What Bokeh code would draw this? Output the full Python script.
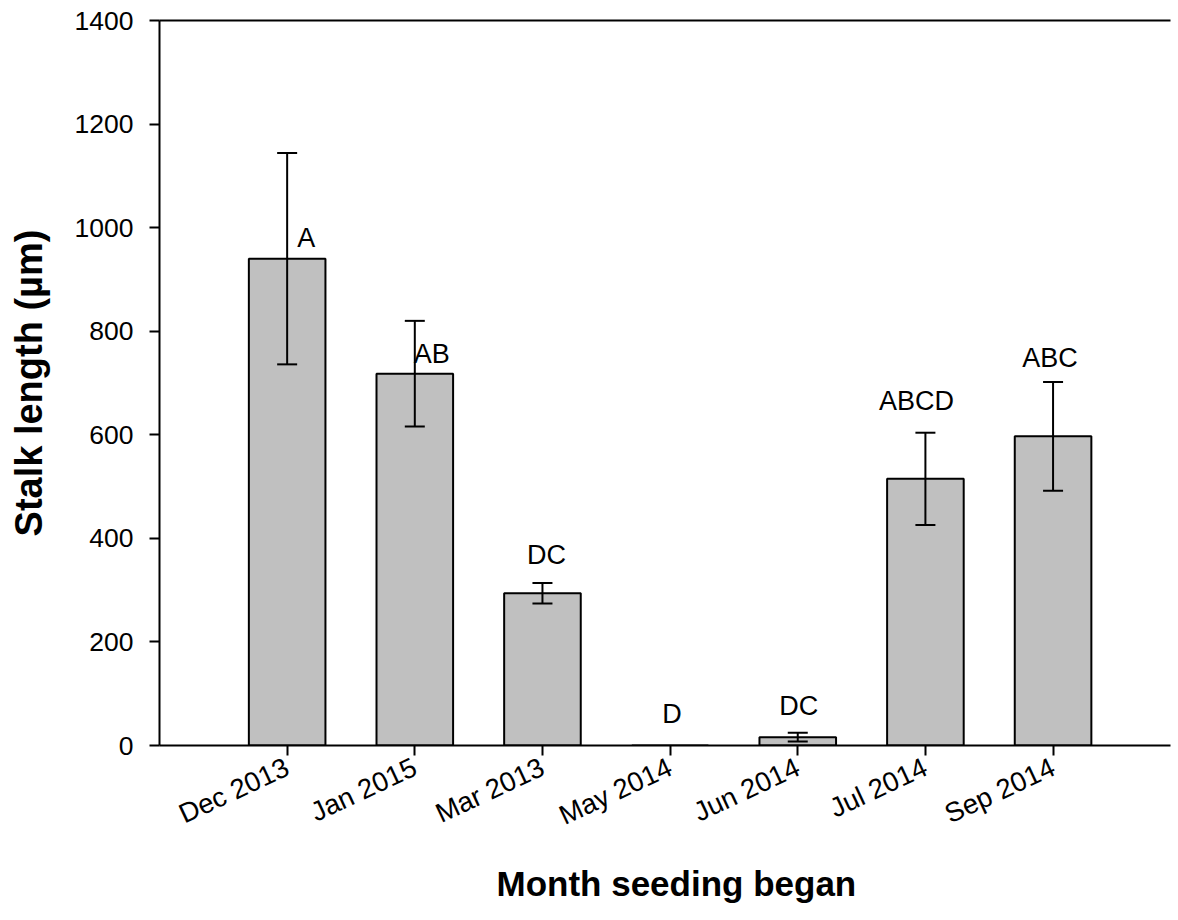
import math

from bokeh.plotting import figure
from bokeh.models import (ColumnDataSource, Range1d, FixedTicker, LinearAxis,
                          Whisker, TeeHead, LabelSet, Title)
from bokeh.core.properties import value
from bokeh.embed import file_html
from bokeh.resources import INLINE

# Month in which seeding began, mean stalk length and its standard error
months = ["Dec 2013", "Jan 2015", "Mar 2013", "May 2014", "Jun 2014", "Jul 2014", "Sep 2014"]
stalk_mean = [940, 718, 294, 0, 16, 515, 597]
stalk_err = [204, 102, 20, 0, 8.5, 89, 105]

# Tukey grouping letters
groups = ["A", "AB", "DC", "D", "DC", "ABCD", "ABC"]

y_ticks = [0, 200, 400, 600, 800, 1000, 1200, 1400]

# Placement of the grouping letters: height (µm) and sideways nudge (px)
letter_y = [962, 738, 351, 43, 58, 648, 730]
letter_dx = [19, 17, 4, 2, 1, -9, -3]

FONT = "Liberation Sans"

xs = list(range(1, len(months) + 1))

bars = ColumnDataSource(dict(x=xs, top=stalk_mean))

err_idx = [i for i, e in enumerate(stalk_err) if e > 0]
errs = ColumnDataSource(dict(
    x=[xs[i] for i in err_idx],
    upper=[stalk_mean[i] + stalk_err[i] for i in err_idx],
    lower=[stalk_mean[i] - stalk_err[i] for i in err_idx],
))

letters = ColumnDataSource(dict(x=xs, y=letter_y, text=groups, dx=letter_dx))

p = figure(width=1178, height=920,
           x_range=Range1d(0, 7.92), y_range=Range1d(0, 1400),
           output_backend="svg", toolbar_location=None,
           min_border_left=159, min_border_right=8,
           min_border_top=20, min_border_bottom=175)

p.outline_line_color = None
p.xgrid.visible = False
p.ygrid.visible = False
p.background_fill_color = "white"
p.border_fill_color = "white"

p.vbar(x="x", top="top", width=0.6, source=bars,
       fill_color="#C0C0C0", line_color="black", line_width=2)

p.add_layout(Whisker(source=errs, base="x", upper="upper", lower="lower",
                     level="overlay", line_color="black", line_width=2,
                     upper_head=TeeHead(size=20, line_color="black", line_width=2),
                     lower_head=TeeHead(size=20, line_color="black", line_width=2)))

p.add_layout(LabelSet(source=letters, x="x", y="y", text="text", x_offset="dx",
                      text_align="center", text_baseline="alphabetic",
                      text_font=value(FONT), text_font_size=value("27px"),
                      text_color="black"))

# Axes
for ax in (p.xaxis[0], p.yaxis[0]):
    ax.axis_line_width = 2
    ax.axis_line_color = "black"
    ax.major_tick_line_width = 2
    ax.major_tick_line_color = "black"
    ax.major_tick_out = 10
    ax.major_tick_in = 0
    ax.minor_tick_line_color = None
    ax.major_label_text_font = FONT
    ax.major_label_text_color = "black"
    ax.axis_label_text_font = FONT
    ax.axis_label_text_font_style = "bold"
    ax.axis_label_text_color = "black"

p.xaxis.ticker = FixedTicker(ticks=xs)
p.xaxis.major_label_overrides = {x: m for x, m in zip(xs, months)}
p.xaxis.major_label_orientation = math.radians(25)
p.xaxis.major_label_standoff = 10
p.xaxis.major_label_text_font_size = "27.5px"

p.yaxis.ticker = FixedTicker(ticks=y_ticks)
p.yaxis.major_label_text_font_size = "26.5px"
p.yaxis.major_label_standoff = 16
p.yaxis.axis_label = "Stalk length (µm)"
p.yaxis.axis_label_text_font_size = "38px"
p.yaxis.axis_label_standoff = 22

# x-axis title, set a little right of the frame centre
p.add_layout(Title(text="Month seeding began", align="left", offset=337,
                   standoff=28, text_font=FONT, text_font_size="35px",
                   text_font_style="bold", text_color="black"), "below")

# Top border line of the plot frame
top = LinearAxis(ticker=FixedTicker(ticks=[]), axis_line_width=2,
                 axis_line_color="black", major_tick_line_color=None,
                 minor_tick_line_color=None, major_label_text_font_size="0px")
p.add_layout(top, "above")

open("out.html", "w").write(file_html(p, INLINE))
